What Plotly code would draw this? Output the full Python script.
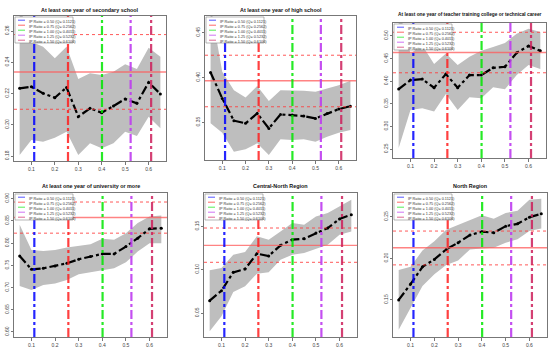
import plotly.graph_objects as go

W, H = 550, 350

# ---------------- data ----------------
x_vals = [0.05, 0.10, 0.15, 0.20, 0.25, 0.30, 0.35, 0.40, 0.45, 0.50, 0.55, 0.60, 0.65]
q_vals = [0.1121, 0.2562, 0.4011, 0.5232, 0.6106]
ip_ratios = ["0.50", "0.75", "1.00", "1.25", "1.50"]
q_labels = ["0.1121", "0.2562", "0.4011", "0.5232", "0.6106"]
x_ticks = [0.1, 0.2, 0.3, 0.4, 0.5, 0.6]

titles = [
    "At least one year of secondary school",
    "At least one year of high school",
    "At least one year of teacher training college or technical career",
    "At least one year of university or more",
    "Central-North Region",
    "North Region",
]

est_secondary = [0.2233, 0.2244, 0.2201, 0.2173, 0.2239, 0.2052, 0.2105, 0.2077, 0.2120, 0.2165, 0.2137, 0.2271, 0.2197]
up_secondary = [0.275, 0.2532, 0.2500, 0.2425, 0.2500, 0.2293, 0.2329, 0.2318, 0.2340, 0.2387, 0.2357, 0.2493, 0.2436]
lo_secondary = [0.1806, 0.1902, 0.1892, 0.1917, 0.1956, 0.1806, 0.1881, 0.1849, 0.1881, 0.1956, 0.1928, 0.2052, 0.1977]
h_secondary = [0.2577, 0.2338, 0.2099]

est_high = [0.4056, 0.3767, 0.3519, 0.3489, 0.3600, 0.3433, 0.3589, 0.3581, 0.3570, 0.3544, 0.3600, 0.3648, 0.3681]
up_high = [0.480, 0.4063, 0.3859, 0.3778, 0.3904, 0.3737, 0.3859, 0.3859, 0.3852, 0.3841, 0.3878, 0.3915, 0.3963]
lo_high = [0.3489, 0.3385, 0.3174, 0.3200, 0.3267, 0.3137, 0.3311, 0.3304, 0.3311, 0.3285, 0.3341, 0.3385, 0.3415]
h_high = [0.4248, 0.3963, 0.3674]

est_teacher = [0.3827, 0.4025, 0.4047, 0.3856, 0.4157, 0.3856, 0.4135, 0.4135, 0.4296, 0.4318, 0.4626, 0.4780, 0.4670]
up_teacher = [0.560, 0.4611, 0.4795, 0.4377, 0.4611, 0.4355, 0.4538, 0.4670, 0.4758, 0.4846, 0.5051, 0.5161, 0.5088]
lo_teacher = [0.2522, 0.3365, 0.3402, 0.3328, 0.3717, 0.3365, 0.3644, 0.3622, 0.3864, 0.3820, 0.4135, 0.4355, 0.4267]
h_teacher = [0.5081, 0.4633, 0.4186]

est_univ = [0.7711, 0.7410, 0.7433, 0.7485, 0.7546, 0.7636, 0.7696, 0.7757, 0.7757, 0.7922, 0.8111, 0.8322, 0.8337]
up_univ = [0.8412, 0.7847, 0.7824, 0.7847, 0.7900, 0.7945, 0.7975, 0.8096, 0.8073, 0.8224, 0.8450, 0.8601, 0.8623]
lo_univ = [0.7033, 0.6943, 0.7056, 0.7093, 0.7169, 0.7297, 0.7342, 0.7395, 0.7433, 0.7568, 0.7809, 0.7998, 0.7998]
h_univ = [0.8925, 0.8578, 0.8224]

est_cnorth = [0.0642, 0.0758, 0.0969, 0.1008, 0.1185, 0.1158, 0.1281, 0.1346, 0.1358, 0.1423, 0.1481, 0.1585, 0.1635]
up_cnorth = [0.0992, 0.1019, 0.1173, 0.1204, 0.1385, 0.1346, 0.1442, 0.1538, 0.1519, 0.1615, 0.1654, 0.1731, 0.1808]
lo_cnorth = [0.0288, 0.0462, 0.0742, 0.0808, 0.0954, 0.0969, 0.1115, 0.1173, 0.1192, 0.1242, 0.1288, 0.1404, 0.1442]
h_cnorth = [0.1481, 0.1281, 0.1085]

est_north = [0.1500, 0.1691, 0.1898, 0.1988, 0.2108, 0.2189, 0.2281, 0.2321, 0.2309, 0.2388, 0.2416, 0.2496, 0.2536]
up_north = [0.1859, 0.1898, 0.2096, 0.2207, 0.2346, 0.2406, 0.2466, 0.2518, 0.2478, 0.2546, 0.2574, 0.2705, 0.2717]
lo_north = [0.1141, 0.1410, 0.1669, 0.1809, 0.1920, 0.1976, 0.2108, 0.2120, 0.2127, 0.2189, 0.2229, 0.2329, 0.2361]
h_north = [0.2329, 0.2129, 0.1922]

estimates = [est_secondary, est_high, est_teacher, est_univ, est_cnorth, est_north]
uppers = [up_secondary, up_high, up_teacher, up_univ, up_cnorth, up_north]
lowers = [lo_secondary, lo_high, lo_teacher, lo_univ, lo_cnorth, lo_north]
hlines = [h_secondary, h_high, h_teacher, h_univ, h_cnorth, h_north]

# ---------------- layout / style ----------------
y_ranges = [(0.1768, 0.2696), (0.3081, 0.4685), (0.2302, 0.5286),
            (0.5887, 0.9128), (0.0223, 0.1885), (0.1054, 0.2787)]
y_dticks = [0.02, 0.05, 0.05, 0.05, 0.05, 0.05]
x_range = (0.026, 0.674)

# plot boxes in pixels: left, right, top, bottom
boxes = [(14, 166, 16, 161), (205, 356, 16, 160), (393, 546, 23, 158),
         (14, 167, 193, 337), (204, 357, 193, 337), (393, 547, 193, 337)]
title_y = [10, 10, 15, 186, 186, 186]
title_size = [5.4, 5.4, 4.8, 5.4, 5.4, 5.4]

q_colors = ["rgba(0,0,255,0.85)", "rgba(255,30,30,0.85)", "rgba(0,230,0,0.85)",
            "rgba(190,60,240,0.9)", "rgba(205,30,90,0.85)"]
band_color = "#BEBEBE"
FONT = "Liberation Sans, Arial, sans-serif"


def px(xp):
    return xp / W


def py(yp):
    return 1 - yp / H


fig = go.Figure()
shapes = []
annotations = []
layout_axes = {}

for i in range(6):
    n = i + 1
    xa = "x" if n == 1 else f"x{n}"
    ya = "y" if n == 1 else f"y{n}"
    l, r, t, b = boxes[i]

    fig.add_trace(go.Scatter(x=x_vals, y=uppers[i], mode="lines",
                             line=dict(width=0, color=band_color),
                             xaxis=xa, yaxis=ya, hoverinfo="skip", showlegend=False))
    fig.add_trace(go.Scatter(x=x_vals, y=lowers[i], mode="lines", fill="tonexty",
                             fillcolor=band_color, line=dict(width=0, color=band_color),
                             xaxis=xa, yaxis=ya, hoverinfo="skip", showlegend=False))
    fig.add_trace(go.Scatter(x=x_vals, y=estimates[i], mode="lines+markers",
                             line=dict(color="black", width=2.2, dash="dashdot"),
                             marker=dict(size=3, color="black"),
                             xaxis=xa, yaxis=ya, showlegend=False))

    axis_common = dict(showline=True, mirror=True, linecolor="#777", linewidth=1,
                       ticks="outside", ticklen=2.5, tickcolor="#777", showgrid=False,
                       zeroline=False, tickfont=dict(size=5, color="#444", family=FONT))
    layout_axes["xaxis" if n == 1 else f"xaxis{n}"] = dict(
        domain=[px(l), px(r)], range=list(x_range), anchor=ya,
        tickvals=x_ticks, ticktext=[f"{v:.1f}" for v in x_ticks], **axis_common)
    layout_axes["yaxis" if n == 1 else f"yaxis{n}"] = dict(
        domain=[py(b), py(t)], range=list(y_ranges[i]), anchor=xa,
        dtick=y_dticks[i], tick0=0, tickformat=".2f", tickangle=-90, **axis_common)

    # horizontal reference lines
    for k, hv in enumerate(hlines[i]):
        if k == 1:
            ln = dict(color="rgba(255,90,90,0.75)", width=1.4)
        else:
            ln = dict(color="rgba(255,60,60,0.85)", width=1, dash="dot")
        shapes.append(dict(type="line", xref=f"{xa} domain", yref=ya,
                           x0=0, x1=1, y0=hv, y1=hv, line=ln))
    # vertical quantile lines
    for q, c in zip(q_vals, q_colors):
        shapes.append(dict(type="line", xref=xa, yref=f"{ya} domain",
                           x0=q, x1=q, y0=0, y1=1,
                           line=dict(color=c, width=2.2, dash="dashdot")))

    # hand-made legend box
    lg_l, lg_r, lg_t, lg_b = l + 1, l + 59, t + 1, t + 27
    shapes.append(dict(type="rect", xref="paper", yref="paper",
                       x0=px(lg_l), x1=px(lg_r), y0=py(lg_b), y1=py(lg_t),
                       fillcolor="white", line=dict(color="#888", width=0.6), layer="above"))
    row_h = 5.0
    for k in range(5):
        yy = lg_t + 3.2 + k * row_h
        shapes.append(dict(type="line", xref="paper", yref="paper",
                           x0=px(lg_l + 3), x1=px(lg_l + 10), y0=py(yy), y1=py(yy),
                           line=dict(color=q_colors[k], width=0.8), layer="above"))
    legend_text = "<br>".join(
        f"IP Ratio = {ip_ratios[k]} (Q= {q_labels[k]})" for k in range(5))
    annotations.append(dict(text=legend_text, xref="paper", yref="paper",
                            x=px(lg_l + 12), y=py(lg_t + 0.6), xanchor="left", yanchor="top",
                            align="left", showarrow=False,
                            font=dict(size=3.8, color="#333", family=FONT)))

    # title
    annotations.append(dict(text=f"<b>{titles[i]}</b>", xref="paper", yref="paper",
                            x=px((l + r) / 2), y=py(title_y[i]), xanchor="center",
                            yanchor="middle", showarrow=False,
                            font=dict(size=title_size[i], color="#111", family=FONT)))

fig.update_layout(width=W, height=H, margin=dict(l=0, r=0, t=0, b=0),
                  paper_bgcolor="white", plot_bgcolor="white", showlegend=False,
                  hovermode=False,
                  shapes=shapes, annotations=annotations, **layout_axes)

fig.write_html("out.html", config={"displayModeBar": False, "staticPlot": True},
               post_script="document.body.style.margin='0px';document.body.style.padding='0px';")
